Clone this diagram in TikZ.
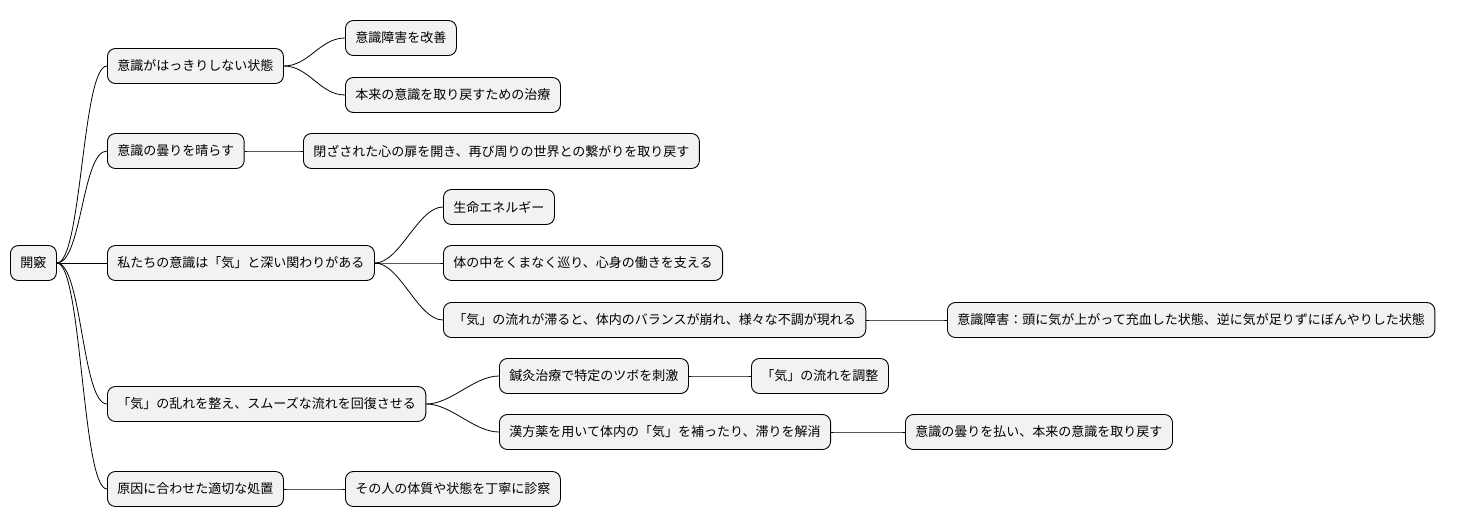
\documentclass[tikz,border=0pt]{standalone}
\usepackage{fontspec}
\setmainfont{Noto Sans CJK JP}
\begin{document}
\begin{tikzpicture}[x=1pt,y=-1pt,
  n/.style={draw=black,fill=gray!10,rounded corners=8pt,line width=0.9pt,minimum height=35pt,inner xsep=10pt,anchor=west,font=\fontsize{13}{15}\selectfont},
  e/.style={line width=0.8pt}]
\useasboundingbox (0,0) rectangle (1482,527);
\node[n] (r) at (10,263) {開竅};
\node[n] (a) at (107,66) {意識がはっきりしない状態};
\node[n] (a1) at (345,38) {意識障害を改善};
\node[n] (a2) at (345,95) {本来の意識を取り戻すための治療};
\node[n] (b) at (107,151) {意識の曇りを晴らす};
\node[n] (b1) at (303,151) {閉ざされた心の扉を開き、再び周りの世界との繋がりを取り戻す};
\node[n] (c) at (107,263) {私たちの意識は「気」と深い関わりがある};
\node[n] (c1) at (443,207) {生命エネルギー};
\node[n] (c2) at (443,263) {体の中をくまなく巡り、心身の働きを支える};
\node[n] (c3) at (443,320) {「気」の流れが滞ると、体内のバランスが崩れ、様々な不調が現れる};
\node[n] (c31) at (947,320) {意識障害：頭に気が上がって充血した状態、逆に気が足りずにぼんやりした状態};
\node[n] (d) at (107,404) {「気」の乱れを整え、スムーズな流れを回復させる};
\node[n] (d1) at (499,376) {鍼灸治療で特定のツボを刺激};
\node[n] (d11) at (751,376) {「気」の流れを調整};
\node[n] (d2) at (499,432) {漢方薬を用いて体内の「気」を補ったり、滞りを解消};
\node[n] (d21) at (905,432) {意識の曇りを払い、本来の意識を取り戻す};
\node[n] (f) at (107,489) {原因に合わせた適切な処置};
\node[n] (f1) at (345,489) {その人の体質や状態を丁寧に診察};
\foreach \p/\c in {r/a,r/b,r/c,r/d,r/f,a/a1,a/a2,b/b1,c/c1,c/c2,c/c3,c3/c31,d/d1,d/d2,d1/d11,d2/d21,f/f1}
  \draw[e] (\p.east) .. controls +(25,0) and +(-25,0) .. (\c.west);
\end{tikzpicture}
\end{document}
